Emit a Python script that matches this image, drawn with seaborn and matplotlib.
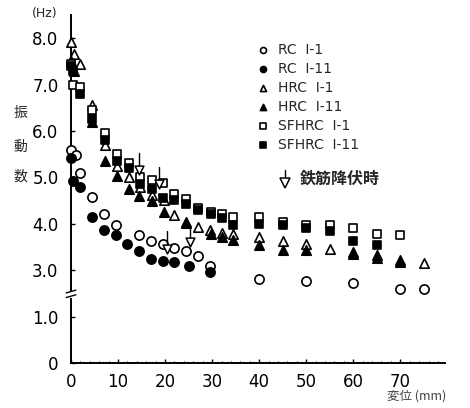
import numpy as np
import pandas as pd
import matplotlib
matplotlib.use("Agg")
import matplotlib.pyplot as plt
import seaborn as sns
from matplotlib.lines import Line2D

sns.set_style("ticks")
plt.rcParams['font.family'] = ['DejaVu Sans', 'Noto Sans CJK JP']

# ---------------- data ----------------
rc1_x = [0, 1, 2, 4.5, 7, 9.5, 14.5, 17, 19.5, 22, 24.5, 27, 29.5, 40, 50, 60, 70, 75]
rc1_y = [5.6, 5.48, 5.1, 4.57, 4.22, 3.98, 3.75, 3.62, 3.57, 3.47, 3.42, 3.31, 3.1, 2.8, 2.76, 2.72, 2.6, 2.59]

rc11_x = [0, 0.5, 2, 4.5, 7, 9.5, 12, 14.5, 17, 19.5, 22, 25, 29.5]
rc11_y = [5.42, 4.92, 4.8, 4.15, 3.87, 3.76, 3.57, 3.41, 3.25, 3.2, 3.17, 3.1, 2.96]

hrc1_x = [0, 0.7, 2, 4.5, 7.3, 9.8, 12.3, 14.7, 17.3, 19.7, 22, 24.5, 27, 29.5, 32.2, 34.5,
          40, 45, 50, 55, 60, 65, 70, 75]
hrc1_y = [7.92, 7.67, 7.45, 6.55, 5.7, 5.24, 5.0, 4.8, 4.63, 4.52, 4.19, 4.02, 3.93, 3.87, 3.8, 3.78,
          3.72, 3.63, 3.57, 3.46, 3.39, 3.33, 3.22, 3.15]

hrc11_x = [0, 0.7, 4.5, 7.3, 9.8, 12.3, 14.5, 17.2, 19.7, 24.5, 29.7, 32.2, 34.5,
           40, 45, 50, 60, 65, 70]
hrc11_y = [7.5, 7.3, 6.2, 5.35, 5.02, 4.76, 4.59, 4.5, 4.26, 4.04, 3.78, 3.72, 3.65,
           3.54, 3.43, 3.43, 3.35, 3.26, 3.18]

sf1_x = [0, 0.5, 2, 4.5, 7.3, 9.8, 12.3, 14.7, 17.3, 19.5, 22, 24.5, 27, 29.7, 32.2, 34.5,
         40, 45, 50, 55, 60, 65, 70]
sf1_y = [7.45, 7.0, 6.95, 6.45, 5.95, 5.5, 5.3, 5.0, 4.95, 4.87, 4.65, 4.54, 4.35, 4.26, 4.21, 4.15,
         4.15, 4.04, 3.98, 3.97, 3.9, 3.78, 3.76]

sf11_x = [0, 0.5, 2, 4.5, 7.3, 9.8, 12.3, 14.7, 17.3, 19.5, 22, 24.5, 27, 29.7, 32.2, 34.5,
          40, 45, 50, 55, 60, 65]
sf11_y = [7.4, 7.3, 6.8, 6.25, 5.8, 5.35, 5.2, 4.85, 4.75, 4.55, 4.52, 4.43, 4.3, 4.21, 4.13, 3.98,
          4.0, 3.98, 3.9, 3.85, 3.64, 3.55]

yield_x = [14.5, 18.6, 20.5, 25.4]
yield_y = [5.15, 4.85, 3.46, 3.6]

labels = ["RC  I-1", "RC  I-11", "HRC  I-1", "HRC  I-11", "SFHRC  I-1", "SFHRC  I-11"]
x_ticks = [0, 10, 20, 30, 40, 50, 60, 70]
y_ticks = [0, 1, 3, 4, 5, 6, 7, 8]
y_ticklabels = ["0", "1.0", "3.0", "4.0", "5.0", "6.0", "7.0", "8.0"]

series = [
    (rc1_x, rc1_y, 'o', 'white', 44),
    (rc11_x, rc11_y, 'o', 'black', 44),
    (hrc1_x, hrc1_y, '^', 'white', 46),
    (hrc11_x, hrc11_y, '^', 'black', 46),
    (sf1_x, sf1_y, 's', 'white', 36),
    (sf11_x, sf11_y, 's', 'black', 36),
]

# broken y axis: 1..2.5 compressed
def fwd(v):
    v = np.asarray(v, dtype=float)
    return np.where(v <= 1, v, np.where(v <= 2.5, 1 + (v - 1) / 3.0, v - 1))

def inv(p):
    p = np.asarray(p, dtype=float)
    return np.where(p <= 1, p, np.where(p <= 1.5, 1 + (p - 1) * 3.0, p + 1))

fig = plt.figure(figsize=(4.7, 4.08), dpi=100)
ax = fig.add_axes([71/470, 45/408, (445-71)/470, (363-15)/408])
ax.set_yscale('function', functions=(fwd, inv))

for (xs, ys, m, fc, s), lab in zip(series, labels):
    df = pd.DataFrame({"x": xs, "y": ys})
    sns.scatterplot(data=df, x="x", y="y", marker=m, s=s, facecolor=fc,
                    edgecolor='black', linewidth=1.2, ax=ax, clip_on=False,
                    label=lab, zorder=3)

# yield markers
ydf = pd.DataFrame({"x": yield_x, "y": yield_y})
for xv, yv in zip(yield_x, yield_y):
    ax.plot([xv, xv], [yv + 0.38, yv + 0.08], color='black', lw=1.0, zorder=4)
sns.scatterplot(data=ydf, x="x", y="y", marker='v', s=40, facecolor='white',
                edgecolor='black', linewidth=1.1, ax=ax, zorder=5, legend=False)

ax.set_xlim(0, 79.5)
ax.set_ylim(0, 8.5)
ax.set_xticks(x_ticks)
ax.set_xticklabels([str(t) for t in x_ticks])
ax.set_yticks(y_ticks)
ax.set_yticklabels(y_ticklabels)
ax.minorticks_on()
ax.yaxis.set_minor_locator(matplotlib.ticker.NullLocator())
ax.set_xticks(np.arange(0, 80, 2), minor=True)
ax.tick_params(axis='both', which='major', direction='in', length=3, width=1.0,
               labelsize=12, colors='black')
ax.tick_params(axis='x', which='major', pad=7)
ax.tick_params(axis='y', which='major', pad=9)
ax.tick_params(axis='x', which='minor', direction='in', length=1.5, width=0.7)
ax.set_xlabel("")
ax.set_ylabel("")
for sp in ['top', 'right']:
    ax.spines[sp].set_visible(False)
for sp in ['left', 'bottom']:
    ax.spines[sp].set_linewidth(1.4)
    ax.spines[sp].set_color('black')

# axis break mark
tr = ax.get_yaxis_transform()
for p in (1.44, 1.54):
    ax.plot([-0.013, 0.013], inv([p - 0.03, p + 0.03]), transform=tr,
            color='black', lw=1.0, clip_on=False, zorder=6)
ax.plot([0, 0], inv([1.45, 1.53]), transform=tr, color='white', lw=2.5,
        clip_on=False, zorder=5)

# legend
leg = ax.legend(loc='upper left', bbox_to_anchor=(256/470, 1 - 43/408),
                bbox_transform=fig.transFigure, frameon=False, borderpad=0,
                borderaxespad=0, handlelength=1.0, handletextpad=0.6,
                labelspacing=0.36, markerscale=0.65,
                prop={'family': ['DejaVu Sans'], 'size': 10})

# yield legend
fig.add_artist(Line2D([285/470, 285/470], [1 - 170/408, 1 - 180/408],
                      transform=fig.transFigure, color='black', lw=1.0))
fig.add_artist(Line2D([285/470], [1 - 183/408], transform=fig.transFigure,
                      marker='v', markersize=6.5, markerfacecolor='white',
                      markeredgecolor='black', markeredgewidth=1.1, linestyle='none'))
fig.text(300/470, 1 - 179/408, "鉄筋降伏時", family=['Noto Sans CJK JP'],
         fontsize=11.5, fontweight='bold', ha='left', va='center')

# axis titles
fig.text(45/470, 1 - 14/408, "(Hz)", fontsize=9, ha='center', va='center')
for ch, yy in zip("振動数", [113, 147, 177]):
    fig.text(20/470, 1 - yy/408, ch, family=['Noto Sans CJK JP'], fontsize=10,
             ha='center', va='center')
fig.text(387/470, 1 - 396/408, "変位 (mm)", family=['Noto Sans CJK JP', 'DejaVu Sans'],
         fontsize=9, color='#444444', ha='left', va='center')

fig.savefig("out.png", dpi=100)
